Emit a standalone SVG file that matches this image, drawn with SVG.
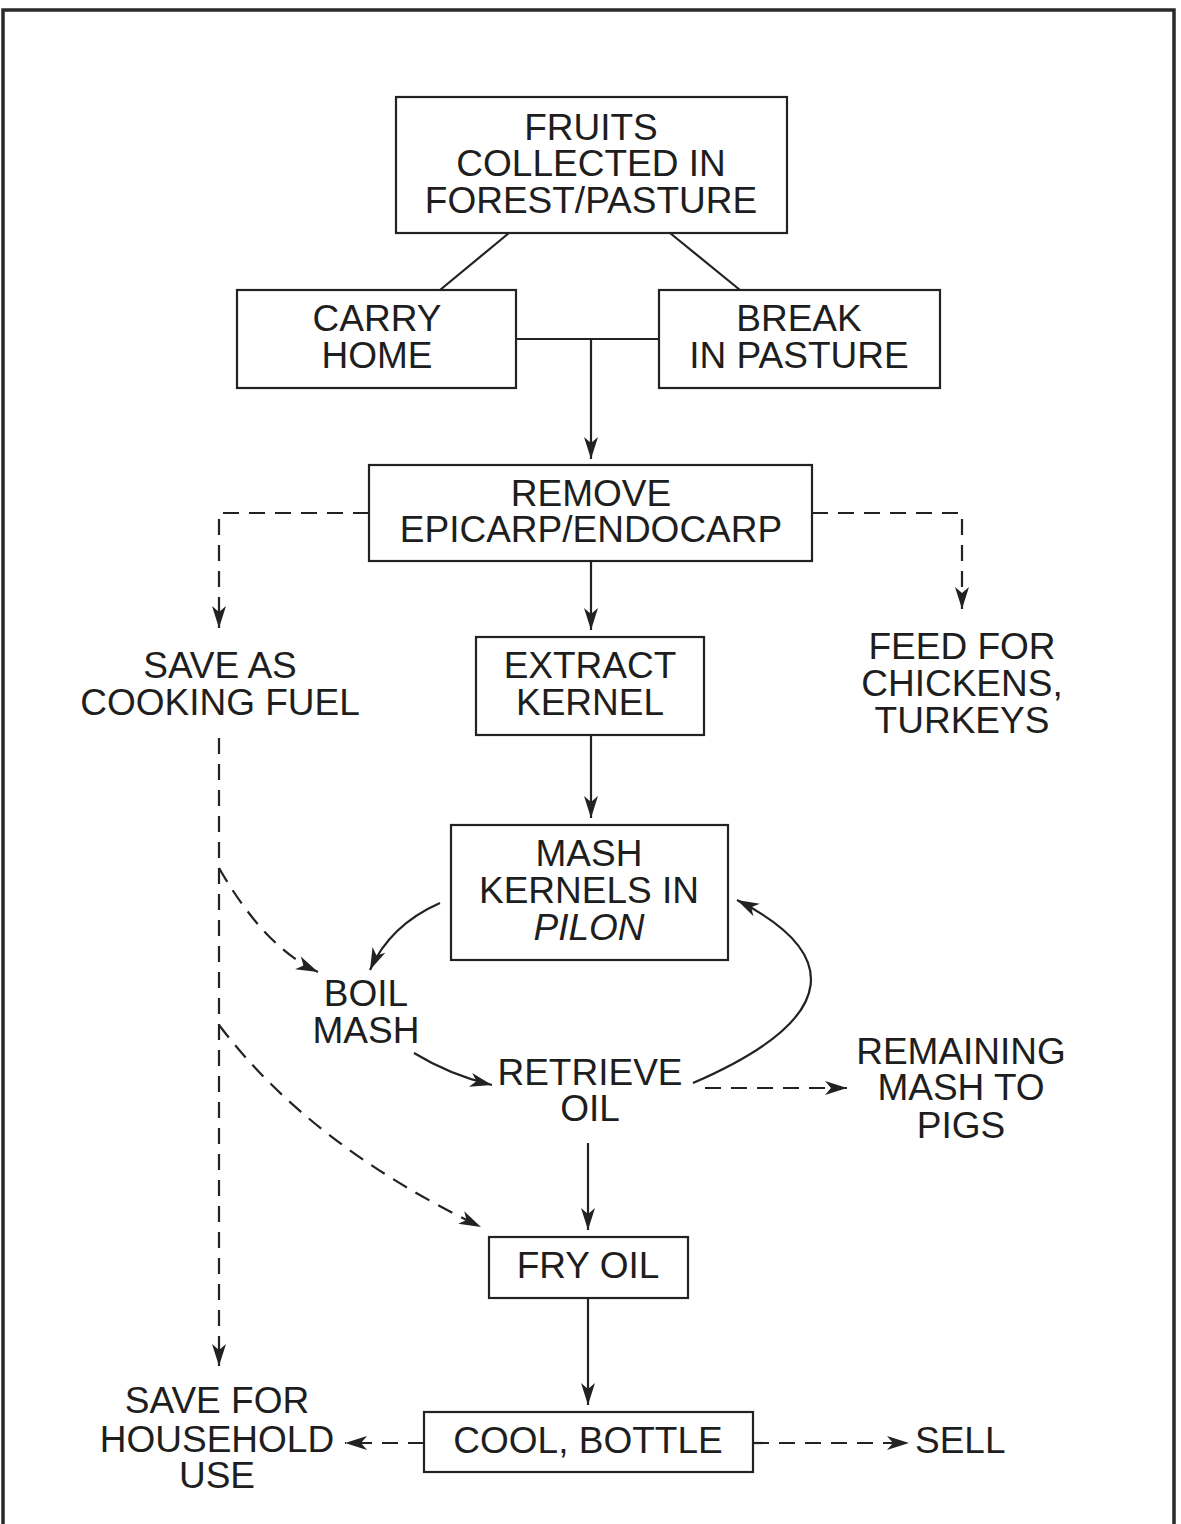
<svg xmlns="http://www.w3.org/2000/svg" width="1181" height="1524" viewBox="0 0 1181 1524">
<style>
.t{font-family:"Liberation Sans",Arial,Helvetica,sans-serif;font-size:37px;fill:#1e1e1e;text-anchor:middle}
.box{fill:#fff;stroke:#222;stroke-width:2.2}
.ln{fill:none;stroke:#222;stroke-width:2.2}
.ds{fill:none;stroke:#222;stroke-width:2.2;stroke-dasharray:16 10}
.frame{fill:none;stroke:#2a2a2a;stroke-width:3.5}
</style>
<defs>
<marker id="ah" viewBox="-23 -8 24 16" refX="0" refY="0" markerWidth="24" markerHeight="16" markerUnits="userSpaceOnUse" orient="auto">
<path d="M0,0 L-22,-7 L-16,0 L-22,7 Z" fill="#222"/>
</marker>
</defs>
<rect width="1181" height="1524" fill="#fff"/>
<path class="frame" d="M3,1524 V10 H1174 V1524"/>

<g id="connectors">
<line class="ln" x1="509" y1="233" x2="440" y2="290"/>
<line class="ln" x1="670" y1="233" x2="740" y2="290"/>
<line class="ln" x1="516" y1="339" x2="659" y2="339"/>
<path class="ln" d="M591,339 V459" marker-end="url(#ah)"/>
<path class="ds" d="M369,513 H219 V628" marker-end="url(#ah)"/>
<path class="ds" d="M812,513 H962 V609" marker-end="url(#ah)"/>
<path class="ln" d="M591,561 V630" marker-end="url(#ah)"/>
<path class="ln" d="M591,735 V818" marker-end="url(#ah)"/>
<path class="ds" d="M219,738 V1366" marker-end="url(#ah)"/>
<path class="ds" d="M219,868 Q265,948 318,972" marker-end="url(#ah)"/>
<path class="ln" d="M440,903 Q390,925 370,970" marker-end="url(#ah)"/>
<path class="ln" d="M414,1053 Q450,1075 492,1085" marker-end="url(#ah)"/>
<path class="ln" d="M693,1083 C850,1015 835,950 737,900" marker-end="url(#ah)"/>
<path class="ds" d="M705,1088 H847" marker-end="url(#ah)"/>
<path class="ds" d="M219,1025 Q310,1145 481,1227" marker-end="url(#ah)"/>
<path class="ln" d="M588,1143 V1230" marker-end="url(#ah)"/>
<path class="ln" d="M588,1298 V1405" marker-end="url(#ah)"/>
<path class="ds" d="M424,1443 H345" marker-end="url(#ah)"/>
<path class="ds" d="M753,1443 H909" marker-end="url(#ah)"/>
</g>

<g id="fruits">
<rect class="box" x="396" y="97" width="391" height="136"/>
<text class="t" x="591" y="140">FRUITS</text>
<text class="t" x="591" y="176">COLLECTED IN</text>
<text class="t" x="591" y="213">FOREST/PASTURE</text>
</g>
<g id="carry">
<rect class="box" x="237" y="290" width="279" height="98"/>
<text class="t" x="377" y="331">CARRY</text>
<text class="t" x="377" y="368">HOME</text>
</g>
<g id="break">
<rect class="box" x="659" y="290" width="281" height="98"/>
<text class="t" x="799" y="331">BREAK</text>
<text class="t" x="799" y="368">IN PASTURE</text>
</g>
<g id="remove">
<rect class="box" x="369" y="465" width="443" height="96"/>
<text class="t" x="591" y="506">REMOVE</text>
<text class="t" x="591" y="542">EPICARP/ENDOCARP</text>
</g>
<g id="fuel">
<text class="t" x="220" y="678">SAVE AS</text>
<text class="t" x="220" y="715">COOKING FUEL</text>
</g>
<g id="extract">
<rect class="box" x="476" y="637" width="228" height="98"/>
<text class="t" x="590" y="678">EXTRACT</text>
<text class="t" x="590" y="715">KERNEL</text>
</g>
<g id="feed">
<text class="t" x="962" y="659">FEED FOR</text>
<text class="t" x="962" y="696">CHICKENS,</text>
<text class="t" x="962" y="733">TURKEYS</text>
</g>
<g id="mash">
<rect class="box" x="451" y="825" width="277" height="135"/>
<text class="t" x="589" y="866">MASH</text>
<text class="t" x="589" y="903">KERNELS IN</text>
<text class="t" x="589" y="940" font-style="italic">PILON</text>
</g>
<g id="boil">
<text class="t" x="366" y="1006">BOIL</text>
<text class="t" x="366" y="1043">MASH</text>
</g>
<g id="retrieve">
<text class="t" x="590" y="1085">RETRIEVE</text>
<text class="t" x="590" y="1121">OIL</text>
</g>
<g id="pigs">
<text class="t" x="961" y="1064">REMAINING</text>
<text class="t" x="961" y="1100">MASH TO</text>
<text class="t" x="961" y="1138">PIGS</text>
</g>
<g id="fry">
<rect class="box" x="489" y="1237" width="199" height="61"/>
<text class="t" x="588" y="1278">FRY OIL</text>
</g>
<g id="household">
<text class="t" x="217" y="1413">SAVE FOR</text>
<text class="t" x="217" y="1452">HOUSEHOLD</text>
<text class="t" x="217" y="1488">USE</text>
</g>
<g id="cool">
<rect class="box" x="424" y="1412" width="329" height="60"/>
<text class="t" x="588" y="1453">COOL, BOTTLE</text>
</g>
<g id="sell">
<text class="t" x="915" y="1453" style="text-anchor:start">SELL</text>
</g>
</svg>
